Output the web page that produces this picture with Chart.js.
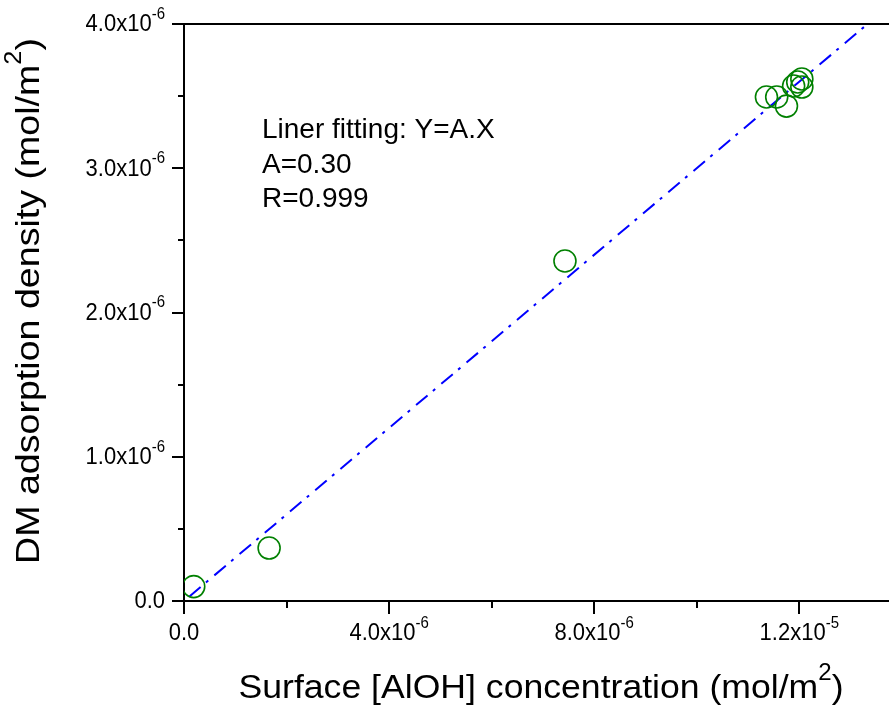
<!DOCTYPE html>
<html>
<head>
<meta charset="utf-8">
<script src="https://cdn.jsdelivr.net/npm/chart.js@4/dist/chart.umd.min.js"></script>
<style>
  html, body { margin: 0; padding: 0; background: #fff; }
  canvas { display: block; }
</style>
</head>
<body>
<canvas id="chart" width="889" height="711"></canvas>
<script>
// ── DATA ─────────────────────────────────────────
const surfaceAlOH = [0.19e-6, 1.66e-6, 7.43e-6, 11.36e-6, 11.56e-6, 11.75e-6, 11.89e-6, 11.97e-6, 12.05e-6, 12.05e-6];
const dmDensity   = [0.10e-6, 0.367e-6, 2.357e-6, 3.494e-6, 3.494e-6, 3.431e-6, 3.570e-6, 3.598e-6, 3.619e-6, 3.563e-6];

const fitX = [0.1e-6, 13.333e-6];
const fitY = [0.03e-6, 4.0e-6];

const xMajor = [0, 4e-6, 8e-6, 1.2e-5];
const xMajorLabels = [['0.0', ''], ['4.0x10', '-6'], ['8.0x10', '-6'], ['1.2x10', '-5']];
const xMinor = [2e-6, 6e-6, 1e-5];

const yMajor = [0, 1e-6, 2e-6, 3e-6, 4e-6];
const yMajorLabels = [['0.0', ''], ['1.0x10', '-6'], ['2.0x10', '-6'], ['3.0x10', '-6'], ['4.0x10', '-6']];
const yMinor = [0.5e-6, 1.5e-6, 2.5e-6, 3.5e-6];

const xTitle = ['Surface [AlOH] concentration (mol/m', '2', ')'];
const yTitle = ['DM adsorption density (mol/m', '2', ')'];
const noteLines = ['Liner fitting: Y=A.X', 'A=0.30', 'R=0.999'];

const FONT = '"Liberation Sans", Arial, Helvetica, sans-serif';

// ── TEXT WITH SUPERSCRIPT ────────────────────────
// parts = [base, sup, tail]; returns unscaled width
function partsWidth(ctx, parts, size) {
  const [base, sup, tail] = parts;
  ctx.font = `${size}px ${FONT}`;
  let w = ctx.measureText(base).width + (tail ? ctx.measureText(tail).width : 0);
  if (sup) {
    ctx.font = `${Math.round(size * 0.68)}px ${FONT}`;
    w += ctx.measureText(sup).width;
  }
  return w;
}

// draws parts with left edge at 0, vertical middle at 0
function drawParts(ctx, parts, size) {
  const [base, sup, tail] = parts;
  ctx.textAlign = 'left';
  ctx.textBaseline = 'middle';
  ctx.font = `${size}px ${FONT}`;
  ctx.fillText(base, 0, 0);
  let cx = ctx.measureText(base).width;
  if (sup) {
    ctx.font = `${Math.round(size * 0.68)}px ${FONT}`;
    ctx.fillText(sup, cx, -size * 0.45);
    cx += ctx.measureText(sup).width;
  }
  if (tail) {
    ctx.font = `${size}px ${FONT}`;
    ctx.fillText(tail, cx, 0);
  }
}

// align: 'left' | 'center' | 'right'; sx, sy: stretch
function label(ctx, parts, x, y, size, align, sx, sy, rot) {
  const w = partsWidth(ctx, parts, size);
  ctx.save();
  ctx.translate(x, y);
  if (rot) ctx.rotate(rot);
  ctx.scale(sx, sy);
  const off = align === 'center' ? -w / 2 : align === 'right' ? -w : 0;
  ctx.translate(off, 0);
  drawParts(ctx, parts, size);
  ctx.restore();
}

// ── AXES, TICKS, LABELS ──────────────────────────
const axisDecor = {
  id: 'axisDecor',
  afterDraw(chart) {
    const ctx = chart.ctx;
    const xs = chart.scales.x, ys = chart.scales.y;
    const area = chart.chartArea;
    ctx.save();
    ctx.strokeStyle = '#000';
    ctx.fillStyle = '#000';
    ctx.lineWidth = 2;

    // x ticks (outward, below)
    xMajor.forEach(v => {
      const px = Math.round(xs.getPixelForValue(v));
      ctx.beginPath(); ctx.moveTo(px, area.bottom); ctx.lineTo(px, area.bottom + 13); ctx.stroke();
    });
    xMinor.forEach(v => {
      const px = Math.round(xs.getPixelForValue(v));
      ctx.beginPath(); ctx.moveTo(px, area.bottom); ctx.lineTo(px, area.bottom + 7); ctx.stroke();
    });
    // y ticks (outward, left)
    yMajor.forEach(v => {
      const py = Math.round(ys.getPixelForValue(v));
      ctx.beginPath(); ctx.moveTo(area.left, py); ctx.lineTo(area.left - 12, py); ctx.stroke();
    });
    yMinor.forEach(v => {
      const py = Math.round(ys.getPixelForValue(v));
      ctx.beginPath(); ctx.moveTo(area.left, py); ctx.lineTo(area.left - 6, py); ctx.stroke();
    });

    // tick labels
    xMajor.forEach((v, i) => {
      label(ctx, xMajorLabels[i], xs.getPixelForValue(v), area.bottom + 33, 22, 'center', 1, 1.05);
    });
    yMajor.forEach((v, i) => {
      label(ctx, yMajorLabels[i], area.left - 19, ys.getPixelForValue(v) + 1, 22, 'right', 1, 1.05);
    });

    // axis titles, stretched to the reference width
    const ts = 34;
    let sx = 605 / partsWidth(ctx, xTitle, ts);
    label(ctx, xTitle, 541, 689, ts, 'center', sx, 1);
    sx = 526 / partsWidth(ctx, yTitle, ts);
    label(ctx, yTitle, 30, 301, ts, 'center', sx, 1, -Math.PI / 2);

    // fit annotation
    ctx.font = `28px ${FONT}`;
    ctx.textAlign = 'left';
    ctx.textBaseline = 'alphabetic';
    noteLines.forEach((t, i) => ctx.fillText(t, 262, 138 + i * 34.5));

    ctx.restore();
  }
};

// ── CHART ────────────────────────────────────────
new Chart(document.getElementById('chart'), {
  data: {
    datasets: [
      {
        type: 'line',
        data: fitX.map((x, i) => ({ x, y: fitY[i] })),
        borderColor: '#0000ff',
        borderWidth: 2,
        borderDash: [15, 7, 3, 8],
        pointRadius: 0,
        fill: false,
        order: 2
      },
      {
        type: 'scatter',
        data: surfaceAlOH.map((x, i) => ({ x, y: dmDensity[i] })),
        pointStyle: 'circle',
        pointRadius: 11,
        pointBorderWidth: 1.6,
        pointBorderColor: '#008000',
        pointBackgroundColor: 'rgba(0,0,0,0)',
        order: 1
      }
    ]
  },
  options: {
    responsive: false,
    devicePixelRatio: 1,
    animation: false,
    layout: { autoPadding: false, padding: { left: 184, top: 24, right: 0, bottom: 110 } },
    plugins: { legend: { display: false }, tooltip: { enabled: false } },
    scales: {
      x: {
        type: 'linear', position: 'bottom', min: 0, max: 1.375e-5,
        grid: { display: false, drawTicks: false },
        border: { display: true, color: '#000', width: 2 },
        ticks: { display: false }
      },
      xTop: {
        type: 'linear', position: 'top', min: 0, max: 1.375e-5,
        grid: { display: false, drawTicks: false },
        border: { display: true, color: '#000', width: 2 },
        ticks: { display: false }
      },
      y: {
        type: 'linear', position: 'left', min: 0, max: 4e-6,
        grid: { display: false, drawTicks: false },
        border: { display: true, color: '#000', width: 2 },
        ticks: { display: false }
      }
    }
  },
  plugins: [axisDecor]
});
</script>
</body>
</html>
